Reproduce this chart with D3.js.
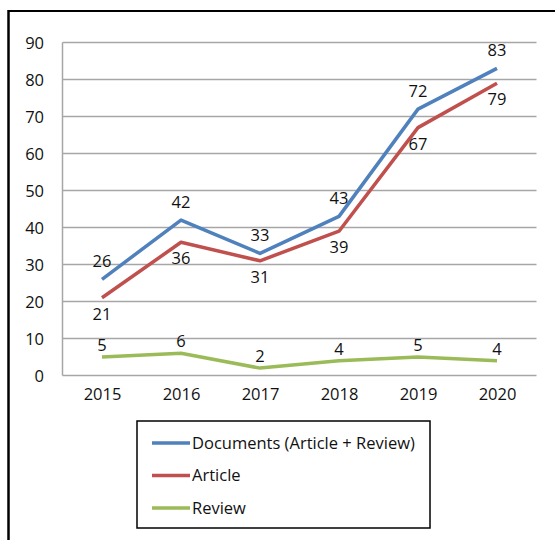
<!DOCTYPE html>
<html>
<head>
<meta charset="utf-8">
<script src="https://cdn.jsdelivr.net/npm/d3@7"></script>
<style>
  body { margin: 0; background: #fff; }
  svg text { font-family: "Open Sans", sans-serif; fill: #111; }
</style>
</head>
<body>
<div class="container"></div>
<script>
var width = 555,
    height = 540;

var years = ['2015', '2016', '2017', '2018', '2019', '2020'];
var documents = [26, 42, 33, 43, 72, 83];
var articles = [21, 36, 31, 39, 67, 79];
var reviews = [5, 6, 2, 4, 5, 4];
var yTicks = [0, 10, 20, 30, 40, 50, 60, 70, 80, 90];

var seriesNames = ['Documents (Article + Review)', 'Article', 'Review'];
var colors = ['#4f81bd', '#c0504d', '#9bbb59'];
var fontSize = '16.5px';

var svg = d3.select('.container').append('svg')
    .attr('width', width)
    .attr('height', height);

// outer frame (only top and left edges are in view)
svg.append('line').attr('x1', 8.5).attr('x2', width).attr('y1', 11).attr('y2', 11)
    .attr('stroke', '#000').attr('stroke-width', 2);
svg.append('line').attr('x1', 8.5).attr('x2', 8.5).attr('y1', 10).attr('y2', height)
    .attr('stroke', '#000').attr('stroke-width', 2.5);

var x = d3.scalePoint()
    .domain(years)
    .range([62.5, 536.5])
    .padding(0.5);

var y = d3.scaleLinear()
    .domain([0, 90])
    .range([375.5, 42.5]);

// gridlines
svg.append('g')
    .selectAll('line')
    .data(yTicks)
    .enter().append('line')
    .attr('x1', 62.5)
    .attr('x2', 536.5)
    .attr('y1', (d) => y(d))
    .attr('y2', (d) => y(d))
    .attr('stroke', '#a6a6a6')
    .attr('stroke-width', 1.5);

svg.append('line')
    .attr('x1', 62.5).attr('x2', 62.5)
    .attr('y1', y(90)).attr('y2', y(0))
    .attr('stroke', '#a6a6a6')
    .attr('stroke-width', 1.5);

// y axis labels
var yAxis = d3.axisLeft(y).tickValues(yTicks).tickSize(0).tickPadding(0);
var gy = svg.append('g')
    .attr('transform', 'translate(44,0)')
    .call(yAxis);
gy.select('.domain').remove();
gy.selectAll('text').style('font-size', fontSize).attr('dy', '0.36em');

// x axis labels
var xAxis = d3.axisBottom(x).tickSize(0).tickPadding(0);
var gx = svg.append('g')
    .attr('transform', 'translate(0,394)')
    .call(xAxis);
gx.select('.domain').remove();
gx.selectAll('text').style('font-size', fontSize).attr('dy', '0.36em');

var line = d3.line()
    .x((d, i) => x(years[i]))
    .y((d) => y(d));

var allSeries = [documents, articles, reviews];
// label offsets: above for documents & reviews, below for articles
var labelDy = [-18, 16, -12];

allSeries.forEach((data, s) => {
    svg.append('path')
        .datum(data)
        .attr('d', line)
        .attr('fill', 'none')
        .attr('stroke', colors[s])
        .attr('stroke-width', 3.5)
        .attr('stroke-linejoin', 'round');

    svg.append('g')
        .selectAll('text')
        .data(data)
        .enter().append('text')
        .attr('x', (d, i) => x(years[i]))
        .attr('y', (d) => y(d) + labelDy[s])
        .attr('dy', '0.36em')
        .attr('text-anchor', 'middle')
        .style('font-size', fontSize)
        .text((d) => d);
});

// legend
var legend = svg.append('g');
legend.append('rect')
    .attr('x', 137).attr('y', 421)
    .attr('width', 293).attr('height', 107)
    .attr('fill', '#fff')
    .attr('stroke', '#000')
    .attr('stroke-width', 1.5);

var rows = legend.selectAll('.row')
    .data(seriesNames)
    .enter().append('g')
    .attr('class', 'row')
    .attr('transform', (d, i) => 'translate(0,' + (443 + i * 32.5) + ')');

rows.append('line')
    .attr('x1', 152).attr('x2', 190)
    .attr('stroke', (d, i) => colors[i])
    .attr('stroke-width', 3.5);

rows.append('text')
    .attr('x', 192)
    .attr('dy', '0.36em')
    .style('font-size', fontSize)
    .text((d) => d);
</script>
</body>
</html>
